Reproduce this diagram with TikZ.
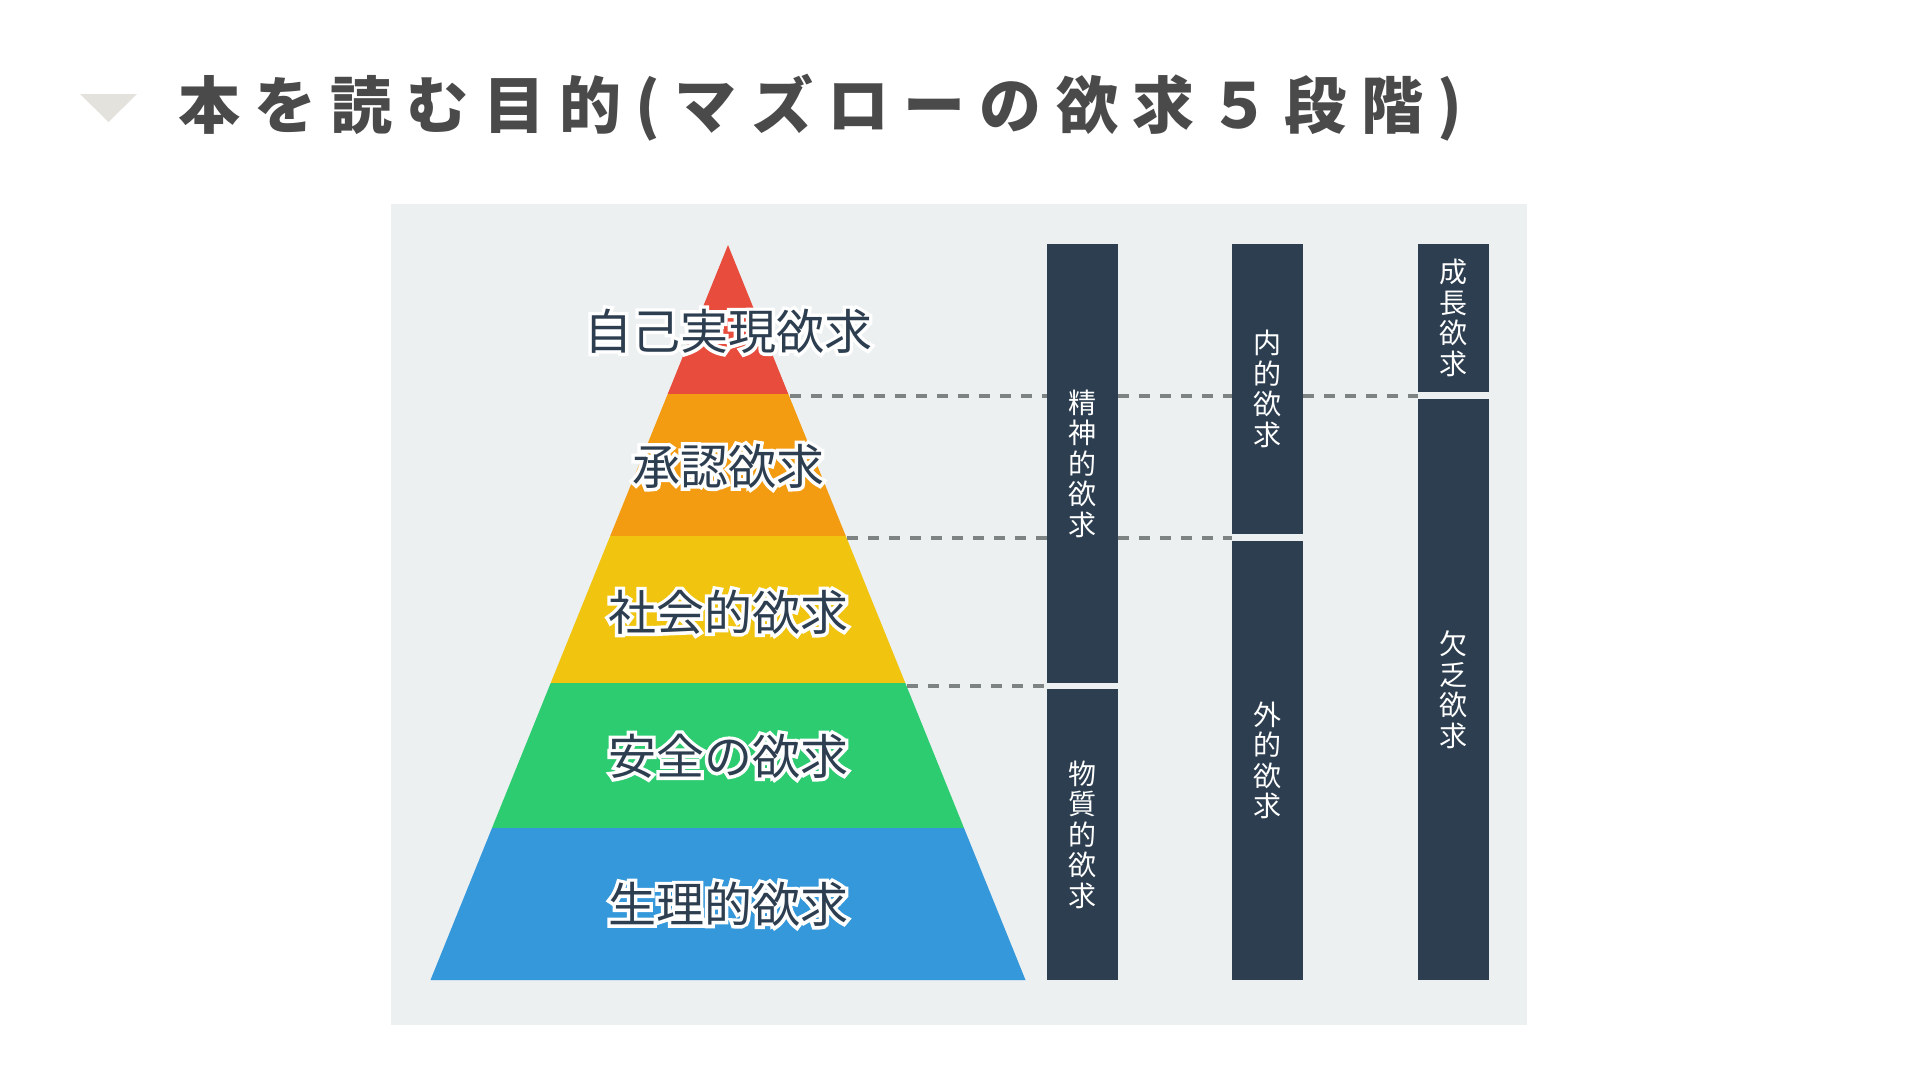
\documentclass[tikz,border=0pt]{standalone}
\usepackage{fontspec}
\usepackage{xcolor}
\setmainfont{Noto Sans CJK JP}
\newfontfamily\titlefont[LetterSpace=23]{Noto Sans CJK JP}
\newfontfamily\halofont[FakeBold=14]{Noto Sans CJK JP}

\definecolor{panelgray}{HTML}{ECF0F1}
\definecolor{bardark}{HTML}{2C3E50}
\definecolor{guidegray}{HTML}{7D8283}
\definecolor{titlegray}{HTML}{4A4A4A}
\definecolor{headtri}{HTML}{E4E2DD}
\definecolor{redlayer}{HTML}{E74C3C}
\definecolor{orangelayer}{HTML}{F39C12}
\definecolor{yellowlayer}{HTML}{F1C40F}
\definecolor{greenlayer}{HTML}{2ECC71}
\definecolor{bluelayer}{HTML}{3498DB}

\newcommand{\haloed}[1]{\rlap{\halofont\color{white}#1}#1}

\begin{document}
\begin{tikzpicture}[x=1pt,y=-1pt,
    layer/.style={text=bardark,inner sep=0pt,font=\fontsize{48}{48}\selectfont},
    bar/.style={fill=bardark,text=white,minimum width=71pt,inner sep=0pt,align=center,
      font=\fontsize{28}{30.5}\selectfont},
    guide/.style={draw=guidegray,line width=4pt,dash pattern=on 11pt off 10pt}]
  \useasboundingbox (0,0) rectangle (1920,1080);
  \fill[white] (0,0) rectangle (1920,1080);

  \fill[headtri] (80,94) -- (137,94) -- (108.5,122) -- cycle;
  \node[anchor=west,inner sep=0pt,text=titlegray,font=\titlefont\bfseries\fontsize{62}{62}\selectfont]
    (title) at (178,108) {本を読む目的(マズローの欲求５段階)};

  \fill[panelgray] (391,204) rectangle (1527,1025);

  % pyramid
  \fill[redlayer] (728,245) -- (788.3,394) -- (667.7,394) -- cycle;
  \fill[orangelayer] (667.7,394) -- (788.3,394) -- (845.8,536) -- (610.2,536) -- cycle;
  \fill[yellowlayer] (610.2,536) -- (845.8,536) -- (905.3,683) -- (550.7,683) -- cycle;
  \fill[greenlayer] (550.7,683) -- (905.3,683) -- (964.0,828) -- (492.0,828) -- cycle;
  \fill[bluelayer] (492.0,828) -- (964.0,828) -- (1025.5,980) -- (430.5,980) -- cycle;

  \node[layer] (self) at (728,331) {\haloed{自己実現欲求}};
  \node[layer] (esteem) at (728,466) {\haloed{承認欲求}};
  \node[layer] (social) at (728,612) {\haloed{社会的欲求}};
  \node[layer] (safety) at (728,756) {\haloed{安全の欲求}};
  \node[layer] (body) at (728,904) {\haloed{生理的欲求}};

  % columns
  \node[bar,minimum height=439pt] (spirit) at (1082.5,463.5) {精\\神\\的\\欲\\求};
  \node[bar,minimum height=291pt] (matter) at (1082.5,834.5) {物\\質\\的\\欲\\求};
  \node[bar,minimum height=290pt] (inner) at (1267.5,389) {内\\的\\欲\\求};
  \node[bar,minimum height=439pt] (outer) at (1267.5,760.5) {外\\的\\欲\\求};
  \node[bar,minimum height=148pt] (growth) at (1453.5,318) {成\\長\\欲\\求};
  \node[bar,minimum height=581pt] (deficit) at (1453.5,689.5) {欠\\乏\\欲\\求};

  \coordinate (e1) at (790,395.5);
  \coordinate (e2) at (847,537.5);
  \coordinate (e3) at (907,686);
  \draw[guide] (e1) -- (spirit.west |- e1);
  \draw[guide] (spirit.east |- e1) -- (inner.west |- e1);
  \draw[guide] (inner.east |- e1) -- (growth.west |- e1);
  \draw[guide] (e2) -- (spirit.west |- e2);
  \draw[guide] (spirit.east |- e2) -- (outer.west |- e2);
  \draw[guide] (e3) -- (matter.west |- e3);
\end{tikzpicture}
\end{document}
